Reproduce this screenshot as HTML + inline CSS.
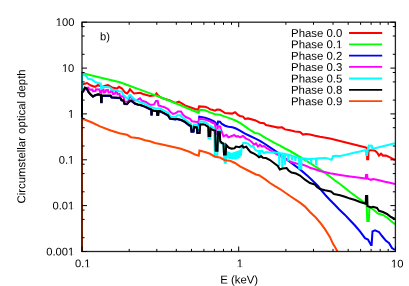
<!DOCTYPE html>
<html><head><meta charset="utf-8"><title>plot</title>
<style>
html,body{margin:0;padding:0;background:#fff;}
body{width:409px;height:286px;position:relative;overflow:hidden;font-family:"Liberation Sans",sans-serif;}
</style></head><body>
<svg width="409" height="286" viewBox="0 0 409 286" style="position:absolute;left:0;top:0">
<defs><clipPath id="c"><rect x="80.8" y="22.2" width="315.6" height="230.1"/></clipPath></defs>
<g clip-path="url(#c)" fill="none" stroke-width="2.05" stroke-linejoin="miter" stroke-miterlimit="3" stroke-linecap="butt">
<polyline stroke="#ff0000" points="82.0,251.5 82.0,84.5 83.0,84.3 87.0,83.0 91.0,85.5 95.0,86.8 98.0,85.0 102.0,87.0 106.0,85.5 108.0,85.0 112.0,87.4 117.0,88.6 119.0,86.8 122.0,88.6 125.0,92.5 127.0,93.5 128.5,91.6 130.0,89.2 132.0,91.6 134.0,93.4 140.0,92.8 143.0,94.0 150.0,95.9 155.0,95.3 156.5,93.4 158.0,95.3 160.0,97.1 165.0,99.0 170.0,100.4 175.0,103.0 179.0,101.7 181.0,103.0 185.0,105.4 190.0,107.2 195.0,109.0 198.3,109.7 199.0,106.4 205.0,106.7 208.0,107.8 210.0,109.3 212.0,109.7 215.0,110.7 217.0,109.6 220.0,109.8 222.0,111.0 225.0,113.0 232.0,113.6 235.0,112.3 238.0,114.8 240.0,116.0 243.0,116.6 245.0,119.0 248.0,118.4 255.0,120.2 260.0,122.7 264.0,123.3 266.0,125.0 272.0,126.3 278.0,127.6 282.0,127.3 285.0,129.4 290.0,130.2 295.0,131.5 300.0,132.0 303.0,134.6 306.0,134.0 310.0,134.6 315.0,135.8 320.0,136.8 330.0,138.5 340.0,141.0 350.0,143.4 360.0,145.9 366.0,147.6 366.8,147.8 367.2,159.3 368.2,159.3 368.6,150.7 372.0,150.0 375.0,150.7 377.0,152.5 379.0,155.6 381.0,153.7 383.0,155.6 386.0,155.6 390.0,157.4 395.0,160.0"/>
<polyline stroke="#00ff00" points="82.0,251.5 82.0,73.0 100.0,77.4 120.0,82.3 130.0,86.0 140.0,89.6 150.0,93.4 160.0,97.0 170.0,101.0 180.0,105.0 190.0,109.2 198.7,112.8 199.6,109.8 205.0,110.2 210.0,112.4 215.0,114.3 220.0,114.7 225.0,116.6 230.0,118.4 235.0,120.3 240.0,122.9 245.0,126.4 250.0,130.0 255.0,133.0 258.0,133.4 260.0,134.3 265.0,137.6 270.0,140.3 275.0,143.2 280.0,145.7 285.0,148.5 290.0,151.0 295.0,154.0 300.0,157.0 305.0,160.0 310.0,163.0 315.0,166.3 320.0,169.4 330.0,176.5 335.0,180.5 340.0,184.0 345.0,188.0 350.0,192.0 355.0,195.8 360.0,199.4 365.0,203.4 366.6,204.5 367.3,221.0 368.8,221.0 369.4,207.0 372.0,208.5 378.0,213.5 383.0,215.0 387.0,217.5 391.0,221.0 395.0,224.3"/>
<polyline stroke="#0000ff" points="82.0,251.5 82.0,92.3 83.0,91.8 85.0,87.9 87.0,89.1 88.5,92.3 91.0,95.1 93.0,96.8 95.0,95.5 98.0,94.5 100.9,94.9 101.1,102.3 101.6,102.3 101.8,95.8 110.7,95.9 111.5,97.5 116.0,97.9 120.5,98.3 121.5,100.3 123.5,100.8 124.5,104.0 127.0,104.2 129.0,101.8 131.0,100.8 133.0,102.3 135.0,103.8 138.0,104.8 140.0,105.1 145.0,106.9 150.0,109.3 151.3,109.8 151.4,114.6 151.7,114.6 151.8,110.3 153.5,110.8 156.9,111.3 157.3,115.0 158.2,115.0 158.6,111.3 160.0,111.3 164.5,113.6 168.0,115.5 170.0,118.8 175.5,119.5 176.7,119.1 181.5,120.3 185.0,122.2 189.0,125.3 191.0,126.3 191.5,131.8 193.5,131.8 194.0,127.3 197.0,127.8 197.3,133.3 199.3,116.6 205.0,117.7 210.0,119.5 214.0,121.4 215.5,122.5 216.0,124.7 217.5,124.7 218.0,121.6 220.0,121.8 221.6,123.6 225.0,125.7 228.4,126.7 232.4,127.2 236.0,128.5 240.0,130.6 245.0,133.7 250.0,136.0 255.0,138.4 260.0,140.8 265.0,144.0 270.0,147.3 280.0,154.0 290.0,162.0 300.0,169.4 308.0,176.2 313.0,181.0 318.0,186.0 322.0,191.0 326.0,195.8 330.0,200.0 335.0,205.0 339.0,209.2 345.0,214.9 350.0,220.2 355.0,225.5 360.0,231.4 365.0,238.2 368.0,239.5 371.0,244.9 371.6,244.9 372.5,231.4 375.0,230.4 379.0,232.0 382.0,236.0 386.0,240.8 389.0,242.9 392.0,248.0 395.0,250.0"/>
<polyline stroke="#ff00ff" points="82.0,251.5 82.0,90.5 84.0,90.4 86.0,88.0 88.5,87.6 89.0,89.6 92.5,89.6 93.0,91.2 95.5,91.0 96.0,89.2 99.5,89.4 100.0,92.0 101.5,92.4 102.0,90.0 103.5,89.6 104.0,92.4 105.5,92.0 106.0,90.2 108.0,90.0 108.5,92.6 110.5,92.2 111.0,91.0 112.5,91.4 113.0,94.0 115.0,93.6 115.5,92.0 117.0,92.4 117.5,94.4 119.5,94.0 120.0,96.0 123.5,96.2 124.5,101.8 128.0,101.8 129.5,97.5 131.0,96.8 133.0,99.0 134.0,100.5 137.0,100.2 140.0,98.3 142.0,100.8 146.0,102.0 150.0,104.8 152.0,104.8 154.0,104.4 156.0,101.0 157.7,101.0 158.5,105.4 162.0,106.5 164.5,107.2 168.0,109.0 170.5,112.1 173.0,114.0 175.5,113.3 178.0,111.5 181.0,111.5 182.8,114.6 185.8,117.0 190.0,118.8 192.0,121.3 197.0,121.9 198.7,122.0 199.2,118.8 205.0,119.5 210.0,121.4 213.0,123.0 214.5,123.5 215.2,124.0 215.6,134.0 217.3,134.0 217.7,126.5 220.3,126.5 221.0,130.0 222.0,132.5 223.5,136.3 225.0,135.5 226.5,135.0 228.4,137.3 230.0,136.8 232.4,135.8 234.0,135.0 236.3,136.6 238.0,136.2 240.0,137.3 243.0,136.0 246.0,138.6 249.0,139.8 252.0,142.2 254.0,144.7 256.0,143.4 258.0,146.5 260.0,144.7 262.0,146.5 264.0,146.0 266.0,147.7 268.0,149.0 270.0,150.2 275.0,153.0 280.0,155.8 285.0,158.6 290.5,161.7 296.4,163.6 302.3,164.6 308.0,166.6 310.0,167.8 315.0,169.3 320.0,171.0 330.0,173.2 340.0,175.0 345.0,175.8 350.0,176.4 360.0,177.8 365.0,178.4 365.8,178.5 366.0,175.0 367.2,175.0 367.5,178.6 371.0,179.8 373.0,179.1 377.0,179.8 385.0,181.8 390.0,182.7 395.0,184.0"/>
<polyline stroke="#00ffff" points="82.0,251.5 82.0,74.5 86.0,75.8 88.0,78.8 92.0,79.4 95.0,81.9 98.0,83.0 100.8,83.5 101.1,88.6 101.7,88.6 102.0,86.8 106.0,87.0 110.5,87.6 111.5,89.8 117.5,90.2 118.5,91.2 122.0,91.6 123.0,95.0 125.0,96.0 126.5,98.3 128.0,98.0 129.0,95.3 130.5,94.9 132.0,97.0 135.0,99.6 140.0,102.0 145.0,104.0 150.0,106.6 154.7,108.2 160.0,108.4 164.5,110.9 168.0,112.7 170.5,116.4 175.5,117.0 177.3,115.2 180.3,115.2 182.5,117.6 185.0,119.4 189.0,122.5 191.0,124.0 192.0,127.0 193.5,127.0 194.0,124.5 197.0,125.0 197.5,128.0 199.3,128.0 199.8,121.3 205.0,122.0 208.0,124.0 208.5,138.5 210.3,138.5 210.7,126.0 213.0,127.5 214.3,128.0 214.8,155.0 217.3,155.0 217.8,130.0 219.8,130.0 220.2,143.0 223.5,144.0 224.2,157.4 224.8,162.8 225.8,162.8 226.4,151.0 226.9,156.0 227.6,151.5 228.2,158.0 228.9,152.0 229.6,159.0 230.3,152.5 231.0,159.0 231.7,153.0 232.4,159.5 233.1,152.5 233.8,159.0 234.5,152.0 235.2,159.5 235.9,151.5 236.6,159.0 237.3,151.0 238.0,158.5 238.7,150.5 239.4,158.0 240.1,150.0 240.8,156.0 241.5,149.0 243.3,143.0 245.0,142.8 247.2,143.4 248.0,143.4 251.0,146.5 253.0,146.0 255.0,149.6 257.0,150.8 258.7,151.0 259.0,156.0 259.8,156.0 260.2,151.0 262.0,150.8 264.0,153.2 266.0,152.0 270.0,152.4 275.0,152.4 278.0,152.8 279.0,153.0 279.3,166.0 279.6,153.2 282.0,153.4 282.3,168.0 282.6,153.6 284.7,153.8 285.0,164.6 285.3,154.0 288.1,154.7 288.4,161.0 288.7,154.9 290.0,155.3 291.6,155.8 291.9,160.5 292.2,156.0 295.0,156.8 295.3,161.0 295.6,157.0 299.0,157.8 299.3,169.5 299.7,158.3 300.9,158.3 301.2,169.6 301.5,158.4 305.9,158.6 306.2,162.0 306.5,158.8 310.9,159.1 311.2,163.0 311.5,159.0 315.9,158.6 316.2,165.0 316.5,158.4 320.0,158.2 325.0,158.0 328.0,158.4 330.5,159.6 331.5,159.8 333.0,156.2 335.0,155.7 340.0,156.0 345.0,155.0 350.0,153.8 355.0,152.6 360.0,151.4 365.0,150.3 365.8,150.2 366.2,155.0 367.0,155.0 367.8,150.0 368.8,145.5 371.8,145.7 372.3,148.8 375.0,148.2 380.0,147.0 385.0,145.8 390.0,144.6 395.0,143.3"/>
<polyline stroke="#000000" points="82.0,251.5 82.0,92.0 83.0,91.5 85.0,87.6 87.0,88.8 88.5,92.0 91.0,94.8 93.0,96.4 95.0,95.2 98.0,94.2 100.9,94.6 101.1,102.0 101.6,102.0 101.8,95.4 110.7,95.6 111.5,97.2 116.0,97.6 120.5,98.0 121.5,100.0 123.5,100.5 124.5,103.7 127.0,103.9 129.0,101.5 131.0,100.5 133.0,102.0 135.0,103.5 138.0,104.5 140.0,104.8 145.0,106.6 150.0,109.0 151.3,109.5 151.4,114.3 151.7,114.3 151.8,110.0 153.5,110.4 156.9,111.0 157.3,114.7 158.2,114.7 158.6,111.0 160.0,111.0 164.5,113.3 168.0,115.2 170.0,118.5 175.5,119.2 176.7,118.8 181.5,120.0 185.0,121.9 189.0,125.0 191.0,126.0 191.5,131.4 193.5,131.4 194.0,127.0 197.0,127.5 197.3,133.0 199.7,133.0 200.2,124.5 203.0,124.3 205.0,124.6 207.0,126.2 208.3,127.0 208.6,136.0 210.2,136.0 210.6,128.5 213.0,130.0 215.2,130.8 215.7,150.6 217.5,150.6 218.0,132.0 219.8,132.0 220.2,141.0 222.0,143.0 223.5,143.5 224.0,154.5 225.7,154.5 226.2,145.0 228.6,147.5 231.5,148.6 234.5,148.2 236.0,146.5 239.4,147.2 242.3,145.7 243.5,147.5 246.3,146.7 248.0,149.0 250.0,151.5 251.0,152.3 254.0,153.6 257.0,155.5 259.0,157.3 261.0,156.1 263.0,157.8 266.0,158.0 270.0,160.0 272.9,162.2 277.8,166.0 279.8,169.5 282.7,168.5 286.6,168.0 288.6,170.5 291.5,172.6 296.0,173.6 300.0,175.5 305.0,179.7 310.0,183.0 315.0,184.6 317.0,187.0 320.0,189.0 325.0,190.3 331.0,191.5 334.0,194.0 340.0,195.2 345.0,196.8 350.0,198.6 355.0,200.0 360.0,202.0 365.0,203.4 365.8,203.6 366.0,196.0 367.2,196.0 367.5,206.0 371.0,207.5 373.0,206.8 377.0,208.0 379.0,210.8 383.0,212.0 387.0,214.0 391.0,217.0 395.0,219.0"/>
<polyline stroke="#ff4500" points="82.0,251.5 82.0,118.6 92.0,122.5 100.0,126.4 110.0,130.3 119.5,133.3 127.0,134.8 131.0,137.2 139.0,138.2 145.0,140.2 150.0,141.2 155.0,143.0 160.0,144.0 170.0,146.3 180.0,148.5 190.0,152.0 195.0,154.6 198.7,155.7 199.5,150.5 205.0,152.0 210.0,153.8 215.0,156.7 220.0,157.6 225.0,160.2 230.0,160.8 235.0,163.0 240.0,166.4 250.0,171.5 256.0,174.5 259.0,175.2 265.0,179.2 270.0,183.0 275.0,186.2 280.0,189.0 290.0,196.0 300.0,202.6 305.0,206.6 310.0,212.0 315.0,216.7 320.0,222.5 325.0,229.2 330.0,237.2 333.0,243.8 335.0,247.0 337.5,251.5"/>
</g>
<g stroke="#000" stroke-width="1.3" fill="none" stroke-linecap="butt">
<rect x="82.0" y="22.2" width="313.4" height="229.3" stroke-opacity="0.86"/>
</g>
<g stroke="#000" stroke-width="1" fill="none">
<path d="M82.0 22.2h5 M395.4 22.2h-5"/>
<path d="M82.0 26.6h2.6 M395.4 26.6h-2.6"/>
<path d="M82.0 36.0h2.6 M395.4 36.0h-2.6"/>
<path d="M82.0 54.3h2.6 M395.4 54.3h-2.6"/>
<path d="M82.0 68.1h5 M395.4 68.1h-5"/>
<path d="M82.0 72.5h2.6 M395.4 72.5h-2.6"/>
<path d="M82.0 81.9h2.6 M395.4 81.9h-2.6"/>
<path d="M82.0 100.1h2.6 M395.4 100.1h-2.6"/>
<path d="M82.0 113.9h5 M395.4 113.9h-5"/>
<path d="M82.0 118.4h2.6 M395.4 118.4h-2.6"/>
<path d="M82.0 127.7h2.6 M395.4 127.7h-2.6"/>
<path d="M82.0 146.0h2.6 M395.4 146.0h-2.6"/>
<path d="M82.0 159.8h5 M395.4 159.8h-5"/>
<path d="M82.0 164.2h2.6 M395.4 164.2h-2.6"/>
<path d="M82.0 173.6h2.6 M395.4 173.6h-2.6"/>
<path d="M82.0 191.8h2.6 M395.4 191.8h-2.6"/>
<path d="M82.0 205.6h5 M395.4 205.6h-5"/>
<path d="M82.0 210.1h2.6 M395.4 210.1h-2.6"/>
<path d="M82.0 219.4h2.6 M395.4 219.4h-2.6"/>
<path d="M82.0 237.7h2.6 M395.4 237.7h-2.6"/>
<path d="M82.0 251.5h5 M395.4 251.5h-5"/>
<path d="M82.0 251.5v-5 M82.0 22.2v5"/>
<path d="M129.2 251.5v-2.6 M129.2 22.2v2.6"/>
<path d="M156.8 251.5v-2.6 M156.8 22.2v2.6"/>
<path d="M176.3 251.5v-2.6 M176.3 22.2v2.6"/>
<path d="M191.5 251.5v-2.6 M191.5 22.2v2.6"/>
<path d="M203.9 251.5v-2.6 M203.9 22.2v2.6"/>
<path d="M214.4 251.5v-2.6 M214.4 22.2v2.6"/>
<path d="M223.5 251.5v-2.6 M223.5 22.2v2.6"/>
<path d="M231.5 251.5v-2.6 M231.5 22.2v2.6"/>
<path d="M238.7 251.5v-5 M238.7 22.2v5"/>
<path d="M285.9 251.5v-2.6 M285.9 22.2v2.6"/>
<path d="M313.5 251.5v-2.6 M313.5 22.2v2.6"/>
<path d="M333.0 251.5v-2.6 M333.0 22.2v2.6"/>
<path d="M348.2 251.5v-2.6 M348.2 22.2v2.6"/>
<path d="M360.6 251.5v-2.6 M360.6 22.2v2.6"/>
<path d="M371.1 251.5v-2.6 M371.1 22.2v2.6"/>
<path d="M380.2 251.5v-2.6 M380.2 22.2v2.6"/>
<path d="M388.2 251.5v-2.6 M388.2 22.2v2.6"/>
<path d="M395.4 251.5v-5 M395.4 22.2v5"/>
</g>
<line x1="349" y1="33.0" x2="382.2" y2="33.0" stroke="#ff0000" stroke-width="1.85"/>
<line x1="349" y1="44.3" x2="382.2" y2="44.3" stroke="#00ff00" stroke-width="1.85"/>
<line x1="349" y1="55.6" x2="382.2" y2="55.6" stroke="#0000ff" stroke-width="1.85"/>
<line x1="349" y1="66.9" x2="382.2" y2="66.9" stroke="#ff00ff" stroke-width="1.85"/>
<line x1="349" y1="78.5" x2="382.2" y2="78.5" stroke="#00ffff" stroke-width="1.85"/>
<line x1="349" y1="89.8" x2="382.2" y2="89.8" stroke="#000000" stroke-width="1.85"/>
<line x1="349" y1="101.1" x2="382.2" y2="101.1" stroke="#ff4500" stroke-width="1.85"/>
</svg>
<svg width="409" height="286" viewBox="0 0 409 286" style="position:absolute;left:0;top:0;will-change:transform;opacity:0.999">
<g font-family="Liberation Sans, sans-serif" font-size="11.2" fill="#000" text-rendering="geometricPrecision" transform="rotate(0.03 204 143)">
<text x="342.3" y="37.0" text-anchor="end" font-size="11.4">Phase 0.0</text>
<text x="342.3" y="48.3" text-anchor="end" font-size="11.4">Phase 0.1</text>
<text x="342.3" y="59.6" text-anchor="end" font-size="11.4">Phase 0.2</text>
<text x="342.3" y="70.9" text-anchor="end" font-size="11.4">Phase 0.3</text>
<text x="342.3" y="82.5" text-anchor="end" font-size="11.4">Phase 0.5</text>
<text x="342.3" y="93.8" text-anchor="end" font-size="11.4">Phase 0.8</text>
<text x="342.3" y="105.1" text-anchor="end" font-size="11.4">Phase 0.9</text>
<text x="74.3" y="26.2" text-anchor="end" font-size="11.2">100</text>
<text x="74.3" y="72.1" text-anchor="end" font-size="11.2">10</text>
<text x="74.3" y="117.9" text-anchor="end" font-size="11.2">1</text>
<text x="74.3" y="163.8" text-anchor="end" font-size="11.2">0.1</text>
<text x="74.3" y="209.6" text-anchor="end" font-size="11.2">0.01</text>
<text x="74.3" y="255.5" text-anchor="end" font-size="11.2">0.001</text>
<text x="82.9" y="267.3" text-anchor="middle" font-size="11.2">0.1</text>
<text x="240.0" y="267.3" text-anchor="middle" font-size="11.2">1</text>
<text x="397.3" y="267.3" text-anchor="middle" font-size="11.2">10</text>
<text x="239.2" y="283.6" text-anchor="middle" font-size="11.4">E (keV)</text>
<text x="100.0" y="40.2" text-anchor="start" font-size="11.2">b)</text>
<text transform="translate(25.2,136.5) rotate(-90)" text-anchor="middle" font-size="11.4">Circumstellar optical depth</text>
<rect x="336.52" y="47.35" width="2.24" height="1.5" fill="#fff"/>
<rect x="339.90" y="47.35" width="2.18" height="1.5" fill="#fff"/>
<rect x="56.16" y="25.27" width="2.20" height="1.5" fill="#fff"/>
<rect x="59.49" y="25.27" width="2.14" height="1.5" fill="#fff"/>
<rect x="62.39" y="71.13" width="2.20" height="1.5" fill="#fff"/>
<rect x="65.71" y="71.13" width="2.14" height="1.5" fill="#fff"/>
<rect x="68.62" y="116.99" width="2.20" height="1.5" fill="#fff"/>
<rect x="71.94" y="116.99" width="2.14" height="1.5" fill="#fff"/>
<rect x="68.62" y="162.85" width="2.20" height="1.5" fill="#fff"/>
<rect x="71.94" y="162.85" width="2.14" height="1.5" fill="#fff"/>
<rect x="68.62" y="208.71" width="2.20" height="1.5" fill="#fff"/>
<rect x="71.94" y="208.71" width="2.14" height="1.5" fill="#fff"/>
<rect x="68.62" y="254.57" width="2.20" height="1.5" fill="#fff"/>
<rect x="71.94" y="254.57" width="2.14" height="1.5" fill="#fff"/>
<rect x="85.00" y="266.37" width="2.20" height="1.5" fill="#fff"/>
<rect x="88.33" y="266.37" width="2.14" height="1.5" fill="#fff"/>
<rect x="237.43" y="266.37" width="2.20" height="1.5" fill="#fff"/>
<rect x="240.76" y="266.37" width="2.14" height="1.5" fill="#fff"/>
<rect x="391.62" y="266.37" width="2.20" height="1.5" fill="#fff"/>
<rect x="394.94" y="266.37" width="2.14" height="1.5" fill="#fff"/>
</g>
</svg>
</body></html>
